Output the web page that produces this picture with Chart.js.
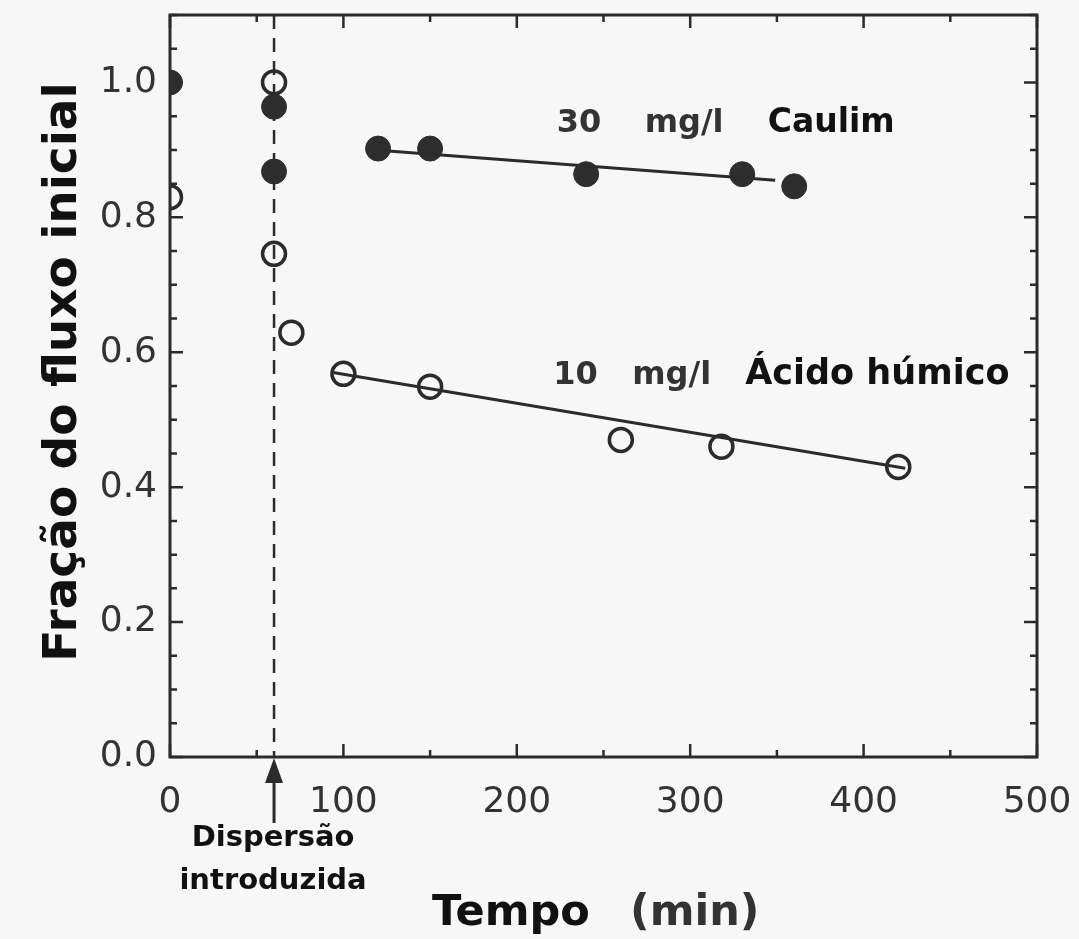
<!DOCTYPE html>
<html>
<head>
<meta charset="utf-8">
<script src="https://cdn.jsdelivr.net/npm/chart.js@4.4.1/dist/chart.umd.min.js"></script>
<style>
  html, body { margin: 0; padding: 0; background: #f7f7f7; }
  #wrap { width: 1079px; height: 939px; position: relative; }
</style>
</head>
<body>
<div id="wrap"><canvas id="grafico"></canvas></div>
<script>
/* ============================================================
   Dados
   ============================================================ */
// Caulim 30 mg/l (pontos cheios)
const caulimTempo = [0, 60, 60, 120, 150, 240, 330, 360];
const caulimFracao = [1.0, 0.964, 0.868, 0.902, 0.902, 0.864, 0.864, 0.846];
// reta ajustada do caulim
const caulimRetaTempo = [122, 349];
const caulimRetaFracao = [0.899, 0.855];

// Ácido húmico 10 mg/l (pontos vazios)
const humicoTempo = [0, 60, 60, 70, 100, 150, 260, 318, 420];
const humicoFracao = [0.83, 1.0, 0.746, 0.629, 0.568, 0.549, 0.47, 0.46, 0.43];
// reta ajustada do ácido húmico
const humicoRetaTempo = [94, 424];
const humicoRetaFracao = [0.57, 0.428];

// dispersão introduzida
const tempoDispersao = 60;

// eixos
const xMin = 0, xMax = 500, xPasso = 50, xRotulo = 100;
const yMin = 0, yMax = 1.1, yPasso = 0.05, yRotulo = 0.2;

const pares = (xs, ys) => xs.map((x, i) => ({ x: x, y: ys[i] }));
const ehMultiplo = (v, m) => Math.abs(v / m - Math.round(v / m)) < 1e-6;

/* ============================================================
   Plugin : moldura, marcas internas, anotações
   ============================================================ */
const cor = '#2b2b2b';

const molduraPlugin = {
    id: 'moldura',
    beforeDatasetsDraw(chart) {
        const { ctx, chartArea: a, scales: { x, y } } = chart;
        ctx.save();

        // linha tracejada da dispersão
        const xd = x.getPixelForValue(tempoDispersao);
        ctx.strokeStyle = cor;
        ctx.lineWidth = 2.5;
        ctx.setLineDash([14, 9]);
        ctx.beginPath();
        ctx.moveTo(xd, a.top);
        ctx.lineTo(xd, a.bottom);
        ctx.stroke();
        ctx.setLineDash([]);

        // marcas internas
        ctx.lineWidth = 2.5;
        y.ticks.forEach(t => {
            const py = y.getPixelForValue(t.value);
            const len = ehMultiplo(t.value, yRotulo) ? 13 : 7;
            ctx.beginPath();
            ctx.moveTo(a.left, py); ctx.lineTo(a.left + len, py);
            ctx.moveTo(a.right, py); ctx.lineTo(a.right - len, py);
            ctx.stroke();
        });
        x.ticks.forEach(t => {
            const px = x.getPixelForValue(t.value);
            const len = ehMultiplo(t.value, xRotulo) ? 13 : 7;
            ctx.beginPath();
            ctx.moveTo(px, a.bottom); ctx.lineTo(px, a.bottom - len);
            ctx.moveTo(px, a.top); ctx.lineTo(px, a.top + len);
            ctx.stroke();
        });

        // moldura
        ctx.lineWidth = 3;
        ctx.strokeRect(a.left, a.top, a.right - a.left, a.bottom - a.top);
        ctx.restore();
    },
    afterDraw(chart) {
        const { ctx, chartArea: a, scales: { x, y } } = chart;
        ctx.save();

        // seta
        const xd = x.getPixelForValue(tempoDispersao);
        ctx.strokeStyle = cor;
        ctx.fillStyle = cor;
        ctx.lineWidth = 3;
        ctx.beginPath();
        ctx.moveTo(xd, a.bottom + 66);
        ctx.lineTo(xd, a.bottom + 20);
        ctx.stroke();
        ctx.beginPath();
        ctx.moveTo(xd, a.bottom + 1);
        ctx.lineTo(xd - 9, a.bottom + 26);
        ctx.lineTo(xd + 9, a.bottom + 26);
        ctx.closePath();
        ctx.fill();

        ctx.fillStyle = '#111';
        ctx.textAlign = 'center';
        ctx.textBaseline = 'alphabetic';
        ctx.font = 'bold 29px "DejaVu Sans"';
        ctx.fillText('Dispersão', xd - 1, a.bottom + 89);
        ctx.fillText('introduzida', xd - 1, a.bottom + 132);

        // título eixo x
        ctx.font = 'bold 43px "DejaVu Sans"';
        ctx.textAlign = 'left';
        ctx.fillText('Tempo', 432, 925);
        ctx.fillStyle = '#333';
        ctx.fillText('(min)', 630, 925);

        // título eixo y
        ctx.fillStyle = '#111';
        ctx.font = 'bold 47px "DejaVu Sans"';
        ctx.textAlign = 'center';
        ctx.translate(76, 372);
        ctx.rotate(-Math.PI / 2);
        ctx.fillText('Fração do fluxo inicial', 0, 0);
        ctx.setTransform(1, 0, 0, 1, 0, 0);

        // rótulos das séries
        ctx.textAlign = 'left';
        const rotulos = [
            { t: 223, f: 0.926, partes: [['30', 0, '#333', 32], ['mg/l', 88, '#333', 32], ['Caulim', 211, '#111', 33]] },
            { t: 221, f: 0.553, partes: [['10', 0, '#333', 32], ['mg/l', 79, '#333', 32], ['Ácido húmico', 192, '#111', 35]] }
        ];
        rotulos.forEach(r => {
            const px = x.getPixelForValue(r.t);
            const py = y.getPixelForValue(r.f);
            r.partes.forEach(([txt, dx, c, tam]) => {
                ctx.fillStyle = c;
                ctx.font = 'bold ' + tam + 'px "DejaVu Sans"';
                ctx.fillText(txt, px + dx, py);
            });
        });
        ctx.restore();
    }
};

/* ============================================================
   Gráfico
   ============================================================ */
const canvas = document.getElementById('grafico');
canvas.width = 1079;
canvas.height = 939;

new Chart(canvas.getContext('2d'), {
    type: 'scatter',
    data: {
        datasets: [
            {
                type: 'line',
                data: pares(caulimRetaTempo, caulimRetaFracao),
                borderColor: cor,
                borderWidth: 3,
                pointRadius: 0,
                fill: false
            },
            {
                type: 'line',
                data: pares(humicoRetaTempo, humicoRetaFracao),
                borderColor: cor,
                borderWidth: 3,
                pointRadius: 0,
                fill: false
            },
            {
                label: '30 mg/l Caulim',
                data: pares(caulimTempo, caulimFracao),
                pointRadius: 12.5,
                pointBackgroundColor: '#2e2e2e',
                pointBorderColor: '#2e2e2e',
                pointBorderWidth: 1
            },
            {
                label: '10 mg/l Ácido húmico',
                data: pares(humicoTempo, humicoFracao),
                pointRadius: 11.5,
                pointBackgroundColor: 'rgba(0,0,0,0)',
                pointBorderColor: cor,
                pointBorderWidth: 3.5
            }
        ]
    },
    options: {
        responsive: false,
        animation: false,
        devicePixelRatio: 1,
        layout: { padding: { top: 12, right: 42, left: 0, bottom: 0 } },
        plugins: {
            legend: { display: false },
            tooltip: { enabled: false }
        },
        scales: {
            x: {
                type: 'linear',
                min: xMin,
                max: xMax,
                border: { display: false },
                grid: { display: false, drawTicks: false },
                ticks: {
                    stepSize: xPasso,
                    padding: 24,
                    color: '#333',
                    font: { family: 'DejaVu Sans', size: 36 },
                    autoSkip: false,
                    maxRotation: 0,
                    callback: v => ehMultiplo(v, xRotulo) ? String(v) : ''
                },
                afterFit: s => {
                    s.height = 182;
                    s.paddingLeft = 0; s.paddingRight = 0;
                    s.paddingTop = 0; s.paddingBottom = 0;
                }
            },
            y: {
                type: 'linear',
                min: yMin,
                max: yMax,
                border: { display: false },
                grid: { display: false, drawTicks: false },
                ticks: {
                    stepSize: yPasso,
                    padding: 13,
                    color: '#333',
                    font: { family: 'DejaVu Sans', size: 36 },
                    autoSkip: false,
                    callback: v => ehMultiplo(v, yRotulo) ? v.toFixed(1) : ''
                },
                afterFit: s => {
                    s.width = 170;
                    s.paddingLeft = 0; s.paddingRight = 0;
                    s.paddingTop = 0; s.paddingBottom = 0;
                }
            }
        }
    },
    plugins: [molduraPlugin]
});
</script>
</body>
</html>
